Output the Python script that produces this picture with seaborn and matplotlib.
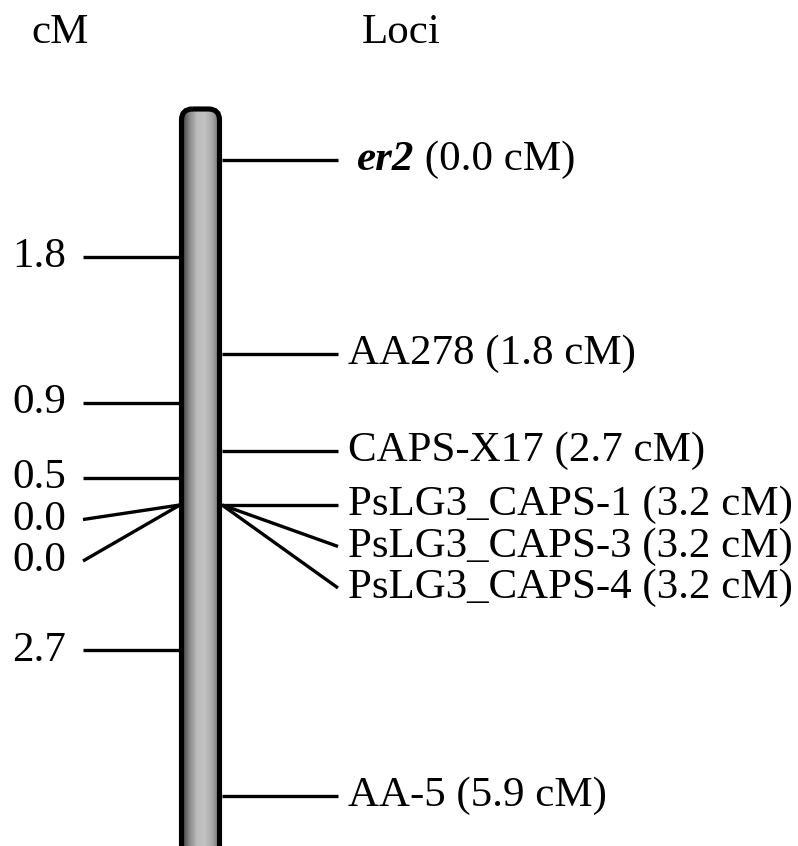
import numpy as np
import matplotlib.pyplot as plt
import seaborn as sns
from matplotlib.patches import FancyBboxPatch
from matplotlib.colors import LinearSegmentedColormap

# linkage group data
loci = ["er2", "AA278", "CAPS-X17", "PsLG3_CAPS-1", "PsLG3_CAPS-3", "PsLG3_CAPS-4", "AA-5"]
positions = [0.0, 1.8, 2.7, 3.2, 3.2, 3.2, 5.9]
intervals = [1.8, 0.9, 0.5, 0.0, 0.0, 2.7]

sns.set_theme(style="white")
plt.rcParams["font.family"] = ["Liberation Serif", "DejaVu Serif"]
plt.rcParams["text.color"] = "black"

PX = 107.8   # pixels per cM
Y0 = 160     # pixel row of 0 cM
GAP = 0.385  # min label spacing in cM
FS = 31

fig = plt.figure(figsize=(7.98, 8.46), dpi=100)
ax = fig.add_axes([0, 0, 1, 1])
ax.set_xlim(0, 798)
ax.set_ylim((846 - Y0) / PX, -Y0 / PX)
ax.axis("off")


def spread(vals):
    out = []
    for v in vals:
        out.append(v if not out else max(v, out[-1] + GAP))
    return out


# chromosome bar
x0, x1 = 181.5, 219.5
top, bot = -51 / PX, 700 / PX
bar = FancyBboxPatch((x0, top), x1 - x0, bot - top,
                     boxstyle="round,pad=0,rounding_size=11",
                     mutation_aspect=1 / PX, facecolor="none",
                     edgecolor="black", linewidth=3.7, zorder=3)
cmap = LinearSegmentedColormap.from_list(
    "chrom", ["#3c3c3c", "#8a8a8a", "#bdbdbd", "#c2c2c2", "#a8a8a8", "#6a6a6a"])
grad = np.linspace(0, 1, 200)[None, :]
img = ax.imshow(grad, cmap=cmap, extent=[x0, x1, bot, top], aspect="auto", zorder=2)
ax.add_patch(bar)
img.set_clip_path(bar)
ax.set_xlim(0, 798)
ax.set_ylim((846 - Y0) / PX, -Y0 / PX)

lw = 2.4

# right side: loci
label_y = spread(positions)
for name, p, ly in zip(loci, positions, label_y):
    ax.plot([222, 338], [p, ly], color="black", lw=lw, solid_capstyle="butt", zorder=1)
    dist = f" ({p:.1f} cM)"
    if name == "er2":
        t1 = ax.text(357, ly, name, fontsize=FS, fontweight="bold", fontstyle="italic",
                     va="center", ha="left")
        fig.canvas.draw()
        w = t1.get_window_extent().width
        ax.text(357 + w, ly, dist, fontsize=FS, va="center", ha="left")
    else:
        ax.text(348, ly, name + dist, fontsize=FS, va="center", ha="left")

# left side: interval distances
mids = [(a + b) / 2 for a, b in zip(positions[:-1], positions[1:])]
left_y = spread(mids)
for d, m, ly in zip(intervals, mids, left_y):
    ax.plot([83, 180], [ly, m], color="black", lw=lw, solid_capstyle="butt", zorder=1)
    ax.text(66, ly, f"{d:.1f}", fontsize=FS, va="center", ha="right")

# headers
ax.text(60, -127 / PX, "cM", fontsize=FS, va="center", ha="center")
ax.text(401, -127 / PX, "Loci", fontsize=FS, va="center", ha="center")

fig.savefig("out.png", dpi=100)
